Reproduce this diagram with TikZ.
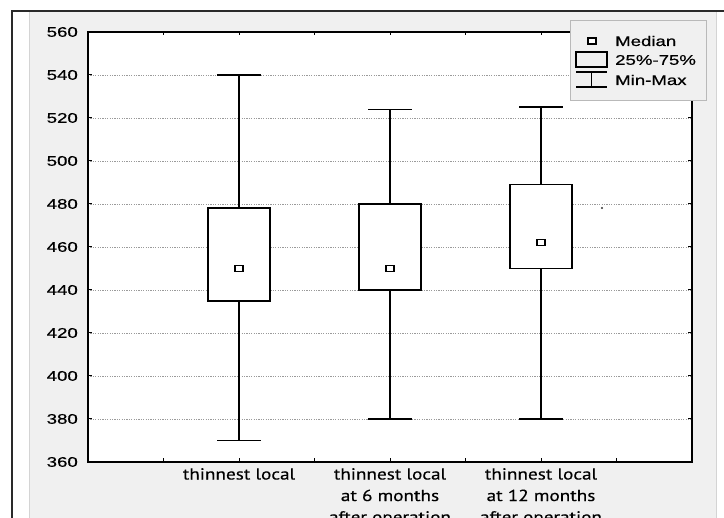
\documentclass[tikz,border=0pt]{standalone}
\usepackage{fontspec}
\setmainfont{Liberation Sans}
\newfontfamily\tickfont[FakeStretch=1.33,FakeBold=0.6]{Liberation Sans}
\newfontfamily\catfont[FakeStretch=1.2,FakeBold=0.35]{PT Sans}
\definecolor{panelcol}{HTML}{F0F0F0}
\definecolor{paneledge}{HTML}{D4D4D4}
\definecolor{framecol}{HTML}{2A2A2A}
\definecolor{gridcol}{HTML}{9A9A9A}
\tikzset{
  axisline/.style={line width=1.7pt, black},
  gridline/.style={line width=0.9pt, gridcol, dash pattern=on 1.2pt off 1.2pt},
  tickline/.style={line width=1pt, black},
  whisk/.style={line width=1.6pt, black},
  boxst/.style={line width=1.7pt, black, fill=white},
  medst/.style={line width=1.3pt, black, fill=white},
  ticklab/.style={anchor=east, inner sep=0pt, font=\tickfont\fontsize{14}{16}\selectfont},
  leglab/.style={anchor=west, inner sep=0pt, font=\tickfont\fontsize{14}{16}\selectfont},
  catlab/.style={anchor=north, inner sep=0pt, align=center, font=\catfont\fontsize{16}{21.5}\selectfont}
}
\begin{document}
\begin{tikzpicture}[x=1pt,y=1pt]
\useasboundingbox (0,0) rectangle (724,518);
\clip (0,0) rectangle (724,518);
\fill[white] (0,0) rectangle (724,518);
% panel
\fill[panelcol] (29,0) rectangle (716,506);
\draw[paneledge, line width=1pt] (29.5,0) -- (29.5,506);
\draw[paneledge, line width=1pt] (716,0) -- (716,506);
% outer frame
\draw[framecol, line width=2.2pt] (12,0) -- (12,507) -- (724,507);
% plot area
\fill[white] (88,56) rectangle (692,486);
\foreach \v in {380,400,...,540}{
  \draw[gridline] (88,{2.15*\v-718}) -- (692,{2.15*\v-718});
  \draw[tickline] (88,{2.15*\v-718}) -- (92,{2.15*\v-718});
  \draw[tickline] (692,{2.15*\v-718}) -- (688,{2.15*\v-718});
}
\foreach \k in {1,...,7}{
  \draw[tickline] ({88+75.5*\k},56) -- ({88+75.5*\k},59.5);
  \draw[tickline] ({88+75.5*\k},486) -- ({88+75.5*\k},482.5);
}
\draw[axisline] (88,56) rectangle (692,486);
% tick labels
\foreach \v [count=\i] in {360,380,...,560}{
  \node[ticklab] (yl\i) at (78,{2.15*\v-718}) {\v};
}
% boxes: center, min, q1, med, q3, max
\foreach \cx/\mn/\qa/\md/\qb/\mx in {239/370/435/450/478/540, 390/380/440/450/480/524, 541/380/450/462/489/525}{
  \draw[whisk] (\cx,{2.15*\mn-718}) -- (\cx,{2.15*\qa-718});
  \draw[whisk] (\cx,{2.15*\qb-718}) -- (\cx,{2.15*\mx-718});
  \draw[whisk] ({\cx-22},{2.15*\mn-718}) -- ({\cx+22},{2.15*\mn-718});
  \draw[whisk] ({\cx-22},{2.15*\mx-718}) -- ({\cx+22},{2.15*\mx-718});
  \draw[boxst] ({\cx-31},{2.15*\qa-718}) rectangle ({\cx+31},{2.15*\qb-718});
  \draw[medst] ({\cx-4},{2.15*\md-718-3}) rectangle ({\cx+4},{2.15*\md-718+3});
}
% stray dot
\fill[black!80] (602,310) circle (1.1pt);
% legend
\draw[gray!55, line width=1pt, fill=panelcol] (570,497) rectangle (706,417);
\draw[medst] (588,474) rectangle (596,480);
\node[leglab] (lmed) at (615,477) {Median};
\draw[line width=1.5pt] (576,466) rectangle (607,451);
\node[leglab] (lbox) at (615,458) {25\%-75\%};
\draw[whisk] (576,446) -- (607,446);
\draw[whisk] (591.5,446) -- (591.5,431);
\draw[whisk] (576,431) -- (607,431);
\node[leglab] (lmm) at (615,438) {Min-Max};
% category labels
\node[catlab] (c1) at (239,50) {thinnest local};
\node[catlab] (c2) at (390,50) {thinnest local\\at 6 months\\after operation};
\node[catlab] (c3) at (541,50) {thinnest local\\at 12 months\\after operation};
\end{tikzpicture}
\end{document}
